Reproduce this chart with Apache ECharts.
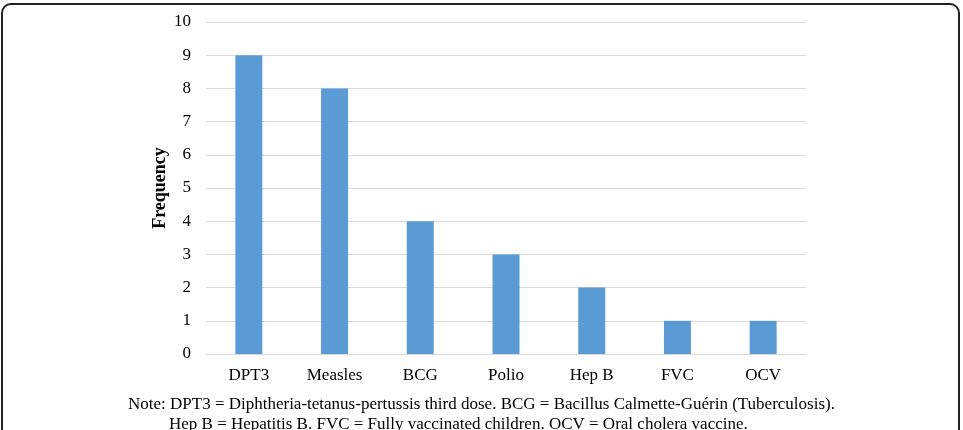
<!DOCTYPE html>
<html lang="en">
<head>
    <meta charset="UTF-8">
    <title>Vaccine frequency</title>
    <style type="text/css">
        html, body { margin: 0px; width: 100%; height: 100%; background: #fff; }
    </style>
    <script type="text/javascript" src="https://cdn.jsdelivr.net/npm/echarts@6/dist/echarts.min.js"></script>
</head>
<body>
    <div id="chart" style="width: 963px; height: 430px;"></div>
<script type="text/javascript">
    var categories = ['DPT3', 'Measles', 'BCG', 'Polio', 'Hep B', 'FVC', 'OCV'];
    var frequency = [9, 8, 4, 3, 2, 1, 1];
    var noteLines = [
        'Note: DPT3 = Diphtheria-tetanus-pertussis third dose. BCG = Bacillus Calmette-Guérin (Tuberculosis).',
        'Hep B = Hepatitis B. FVC = Fully vaccinated children. OCV = Oral cholera vaccine.'
    ];

    var serif = '"Liberation Serif", "Times New Roman", serif';
    var chart = echarts.init(document.getElementById('chart'));
    chart.setOption({
        animation: false,
        grid: { left: 206, right: 157, top: 22, bottom: 76 },
        xAxis: {
            type: 'category',
            data: categories,
            axisLine: { lineStyle: { color: '#d9d9d9' } },
            axisTick: { show: false },
            axisLabel: { color: '#000', fontFamily: serif, fontSize: 17, margin: 13 }
        },
        yAxis: {
            type: 'value',
            min: 0,
            max: 10,
            interval: 1,
            name: 'Frequency',
            nameLocation: 'middle',
            nameGap: 37,
            nameMoveOverlap: false,
            nameTextStyle: { color: '#000', fontFamily: serif, fontSize: 18, fontWeight: 'bold' },
            axisLabel: { color: '#000', fontFamily: serif, fontSize: 17, margin: 15 },
            splitLine: { lineStyle: { color: '#d9d9d9' } }
        },
        series: [{
            type: 'bar',
            data: frequency,
            barWidth: 27,
            itemStyle: { color: '#5b9bd5' }
        }],
        graphic: [
            {
                type: 'rect',
                shape: { x: 2, y: 4, width: 957, height: 440, r: 9 },
                style: { fill: 'none', stroke: '#222', lineWidth: 2 }
            },
            {
                type: 'text', left: 128, top: 396,
                style: { text: noteLines[0], fill: '#000', font: '17px ' + serif }
            },
            {
                type: 'text', left: 169, top: 416,
                style: { text: noteLines[1], fill: '#000', font: '17px ' + serif }
            }
        ]
    });
</script>
</body>
</html>
